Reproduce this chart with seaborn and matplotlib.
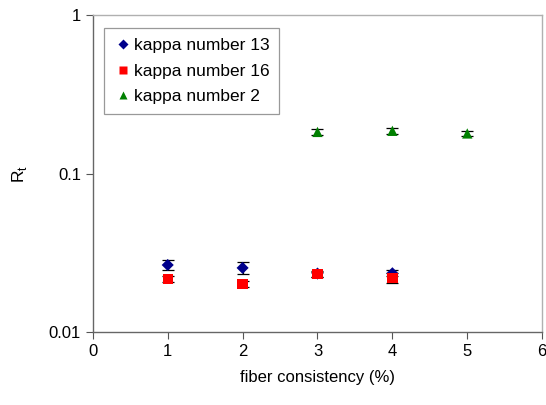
import numpy as np
import pandas as pd
import matplotlib
matplotlib.use("Agg")
import matplotlib.pyplot as plt
import seaborn as sns

# values
x_k13 = [1, 2, 3, 4]
rt_k13 = [0.0265, 0.0254, 0.0234, 0.0235]
err_k13 = [0.0020, 0.0022, 0.0010, 0.0010]

x_k16 = [1, 2, 3, 4]
rt_k16 = [0.0216, 0.0201, 0.0232, 0.0220]
err_k16 = [0.0010, 0.0008, 0.0008, 0.0016]

x_k2 = [3, 4, 5]
rt_k2 = [0.183, 0.186, 0.179]
err_k2 = [0.007, 0.008, 0.006]

labels = ["kappa number 13", "kappa number 16", "kappa number 2"]
colors = ["#00008B", "#FF0000", "#008000"]
markers = ["D", "s", "^"]
msizes = [38, 55, 55]

df = pd.concat([
    pd.DataFrame({"x": x_k13, "rt": rt_k13, "err": err_k13, "series": labels[0]}),
    pd.DataFrame({"x": x_k16, "rt": rt_k16, "err": err_k16, "series": labels[1]}),
    pd.DataFrame({"x": x_k2, "rt": rt_k2, "err": err_k2, "series": labels[2]}),
])

sns.set_style("white")
plt.rcParams["font.family"] = ["Liberation Sans", "DejaVu Sans"]
plt.rcParams["text.color"] = "black"
plt.rcParams["axes.labelcolor"] = "black"
plt.rcParams["xtick.color"] = "black"
plt.rcParams["ytick.color"] = "black"

fig = plt.figure(figsize=(5.46, 4.05), dpi=100)
ax = fig.add_axes([0.170, 0.180, 0.823, 0.783])

for lab, col in zip(labels, colors):
    sub = df[df["series"] == lab]
    ax.errorbar(sub["x"], sub["rt"], yerr=sub["err"], fmt="none",
                ecolor="black", elinewidth=0.9, capsize=4, capthick=0.9, zorder=2)

sns.scatterplot(data=df, x="x", y="rt", hue="series", style="series", size="series",
                palette=dict(zip(labels, colors)), markers=dict(zip(labels, markers)),
                sizes=dict(zip(labels, msizes)), edgecolor="none", ax=ax, zorder=3)

ax.set_yscale("log")
ax.set_ylim(0.01, 1)
ax.set_xlim(0, 6)
ax.set_xticks(range(0, 7))
ax.set_yticks([0.01, 0.1, 1])
ax.set_yticklabels(["0.01", "0.1", "1"])
ax.yaxis.set_minor_locator(matplotlib.ticker.NullLocator())

ax.set_xlabel("fiber consistency (%)", fontsize=12, labelpad=8)
ax.set_ylabel(r"R$_\mathregular{t}$", fontsize=12.5, labelpad=14)
ax.tick_params(axis="both", labelsize=12, direction="out", length=5,
               width=0.8, color="#555555", left=True, bottom=True)

for side in ["left", "bottom"]:
    ax.spines[side].set_color("#666666")
    ax.spines[side].set_linewidth(1.0)
for side in ["top", "right"]:
    ax.spines[side].set_color("#B0B0B0")
    ax.spines[side].set_linewidth(1.0)

handles, _ = ax.get_legend_handles_labels()
leg = ax.legend(handles[:3], labels, loc="upper left", bbox_to_anchor=(0.005, 0.985),
                fontsize=12.5, frameon=True, fancybox=False, borderpad=0.55,
                handletextpad=0.1, handlelength=1.1, labelspacing=0.6, markerscale=0.75)
leg.get_frame().set_edgecolor("#808080")
leg.get_frame().set_linewidth(0.9)

fig.savefig("out.png", dpi=100)
